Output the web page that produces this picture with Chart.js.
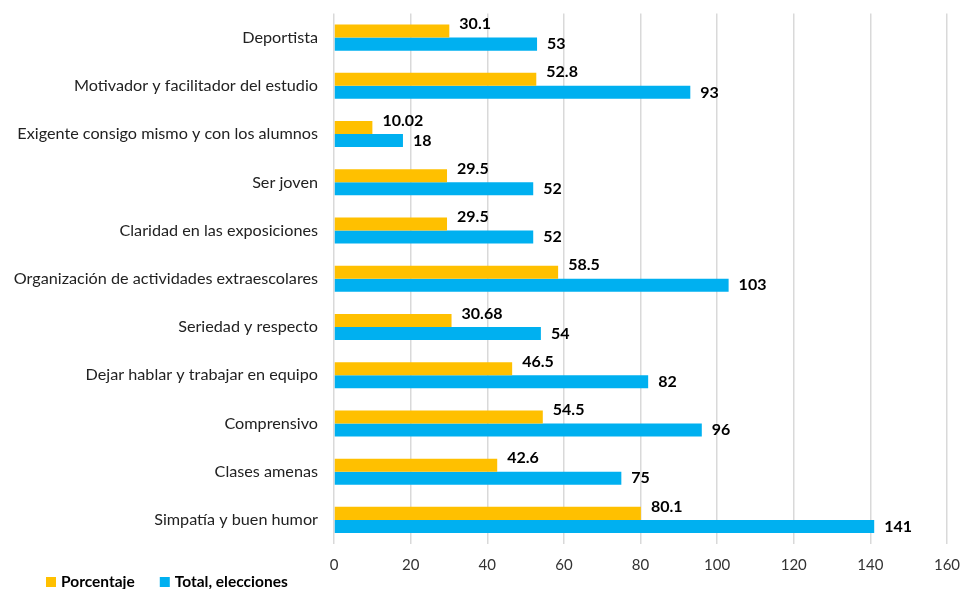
<!DOCTYPE html>
<html>
<head>
<meta charset="utf-8">
<script src="https://cdn.jsdelivr.net/npm/chart.js@4"></script>
<style>
html,body{margin:0;padding:0;background:#fff;}
#wrap{width:964px;height:589px;position:relative;}
</style>
</head>
<body>
<div id="wrap"><canvas id="chart" width="964" height="589"></canvas></div>
<script>
const categories = [
    "Deportista",
    "Motivador y facilitador del estudio",
    "Exigente consigo mismo y con los alumnos",
    "Ser joven",
    "Claridad en las exposiciones",
    "Organización de actividades extraescolares",
    "Seriedad y respecto",
    "Dejar hablar y trabajar en equipo",
    "Comprensivo",
    "Clases amenas",
    "Simpatía y buen humor"
];
const porcentaje = [30.1, 52.8, 10.02, 29.5, 29.5, 58.5, 30.68, 46.5, 54.5, 42.6, 80.1];
const totalElecciones = [53, 93, 18, 52, 52, 103, 54, 82, 96, 75, 141];
const seriesNames = ["Porcentaje", "Total, elecciones"];
const seriesColors = ["#FFC000", "#00B0F0"];

const FONT = "Lato, 'Open Sans', sans-serif";

// labels next to the bar ends, orange ones sit a bit higher
const valueLabels = {
    id: "valueLabels",
    afterDatasetsDraw(chart){
        const ctx = chart.ctx;
        ctx.save();
        ctx.font = "bold 16px " + FONT;
        ctx.fillStyle = "#000";
        ctx.textAlign = "left";
        ctx.textBaseline = "middle";
        chart.data.datasets.forEach((ds, i) => {
            const meta = chart.getDatasetMeta(i);
            meta.data.forEach((bar, j) => {
                const dy = i == 0 ? -7 : 0;
                ctx.fillText(String(ds.data[j]), bar.x + 10, bar.y + dy);
            });
        });
        ctx.restore();
    }
};

// legend at bottom left
const bottomLegend = {
    id: "bottomLegend",
    afterDraw(chart){
        const ctx = chart.ctx;
        ctx.save();
        ctx.font = "bold 15.5px " + FONT;
        ctx.textBaseline = "middle";
        let x = 46;
        const y = 582;
        chart.data.datasets.forEach(ds => {
            ctx.fillStyle = ds.backgroundColor;
            ctx.fillRect(x, y - 5, 10, 10);
            ctx.fillStyle = "#000";
            ctx.fillText(ds.label, x + 15, y);
            x += 15 + ctx.measureText(ds.label).width + 25;
        });
        ctx.restore();
    }
};

new Chart(document.getElementById("chart"), {
    type: "bar",
    data: {
        labels: categories,
        datasets: [
            { label: seriesNames[0], data: porcentaje, backgroundColor: seriesColors[0] },
            { label: seriesNames[1], data: totalElecciones, backgroundColor: seriesColors[1] }
        ]
    },
    options: {
        indexAxis: "y",
        responsive: false,
        animation: false,
        devicePixelRatio: 1,
        layout: { padding: { top: 13.5, right: 17, left: 0, bottom: 0 } },
        datasets: { bar: { categoryPercentage: 0.54, barPercentage: 1.0 } },
        plugins: {
            legend: { display: false },
            tooltip: { enabled: false }
        },
        scales: {
            x: {
                min: 0,
                max: 160,
                ticks: { stepSize: 20, color: "#333", font: { family: FONT, size: 15 }, padding: 12 },
                grid: { color: "#d9d9d9", lineWidth: 1.5, drawTicks: false },
                border: { display: false },
                afterFit(scale){
                    scale.height = 45;
                    scale.paddingLeft = 0;
                    scale.paddingRight = 0;
                }
            },
            y: {
                ticks: { color: "#222", font: { family: FONT, size: 16.2 }, padding: 16 },
                grid: { display: false, drawTicks: false },
                border: { display: false },
                afterFit(scale){
                    scale.width = 334;
                    scale.paddingTop = 0;
                    scale.paddingBottom = 0;
                }
            }
        }
    },
    plugins: [valueLabels, bottomLegend]
});
</script>
</body>
</html>
